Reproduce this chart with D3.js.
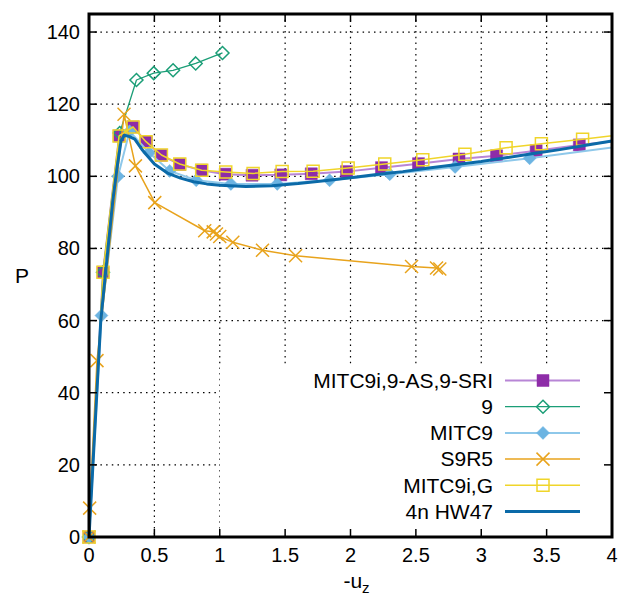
<!DOCTYPE html>
<html lang="en">
<head>
<meta charset="UTF-8" />
<title>P vs -uz</title>
<script src="https://d3js.org/d3.v7.min.js"></script>
<style>
  body { margin: 0; background: #fff; }
  text { font-family: "Liberation Sans", Arial, sans-serif; fill: #000; }
</style>
</head>
<body>
<div id="chart"></div>
<script>
// tick values
const xTicks = [0, 0.5, 1, 1.5, 2, 2.5, 3, 3.5, 4];
const yTicks = [0, 20, 40, 60, 80, 100, 120, 140];

// series as [-uz, P]
const mitc9iAs = [[0, 0], [0.107, 73.4], [0.231, 111.2], [0.337, 113.7], [0.438, 109.6], [0.552, 105.8],
  [0.694, 103.3], [0.86, 101.7], [1.042, 100.6], [1.247, 100.3], [1.467, 100.4], [1.70, 100.7],
  [1.97, 101.3], [2.237, 102.4], [2.52, 103.5], [2.83, 104.8], [3.117, 105.7], [3.42, 107.1],
  [3.75, 108.7], [4.2, 110.4]];
const nine = [[0, 0], [0.107, 73.4], [0.235, 112], [0.363, 126.7], [0.495, 128.6], [0.643, 129.4],
  [0.816, 131.3], [1.021, 134.2]];
const mitc9 = [[0, 0], [0.095, 61.4], [0.222, 100], [0.31, 112.5], [0.46, 106.5], [0.617, 101.5],
  [0.82, 98.9], [1.085, 97.9], [1.44, 97.9], [1.84, 98.9], [2.30, 100.6], [2.80, 102.6],
  [3.37, 105.0], [4.2, 108.9]];
const s9r5 = [[0, 0], [0.005, 8], [0.061, 48.9], [0.268, 117.2], [0.355, 102.9], [0.503, 92.7],
  [0.885, 84.9], [0.95, 84.6], [0.975, 84.0], [1.0, 83.3], [1.10, 81.7], [1.327, 79.5],
  [1.58, 78.0], [2.467, 75.0], [2.658, 74.6], [2.683, 74.3]];
const mitc9iG = [[0, 0], [0.107, 73.4], [0.23, 111.2], [0.337, 113.7], [0.436, 109.6], [0.554, 105.9],
  [0.694, 103.4], [0.862, 101.7], [1.046, 101.2], [1.255, 100.8], [1.477, 101.3], [1.714, 101.4],
  [1.982, 102.3], [2.262, 103.4], [2.553, 104.6], [2.875, 106.1], [3.19, 107.9], [3.46, 109.0],
  [3.775, 110.3], [4.2, 112.1]];
const hw47 = [[0, 0], [0.09, 60], [0.183, 93.5], [0.215, 102.5], [0.245, 109.8], [0.27, 111.4],
  [0.31, 111], [0.35, 110.3], [0.41, 107.2], [0.5, 103.4], [0.6, 100.9], [0.7, 99.5],
  [0.8, 98.5], [0.9, 97.9], [1.0, 97.5], [1.2, 97.2], [1.4, 97.4], [1.6, 98.0], [1.8, 98.8],
  [2.0, 99.6], [2.2, 100.5], [2.4, 101.3], [2.6, 102.3], [2.8, 103.2], [3.0, 104.1], [3.2, 105.2],
  [3.4, 106.3], [3.6, 107.4], [3.8, 108.6], [4.0, 109.8]];

const names = ["MITC9i,9-AS,9-SRI", "9", "MITC9", "S9R5", "MITC9i,G", "4n HW47"];

const series = [
  { data: mitc9iAs, line: "#b886d6", lw: 2, mark: "square", color: "#8e2ca8", fill: true },
  { data: nine, line: "#1b9e77", lw: 1.3, mark: "diamond", color: "#1b9e77", fill: false },
  { data: mitc9, line: "#8ec8ea", lw: 2, mark: "diamond", color: "#6cb4e2", fill: true },
  { data: s9r5, line: "#e8a31c", lw: 1.5, mark: "cross", color: "#e8a31c", fill: false },
  { data: mitc9iG, line: "#f0d52a", lw: 1.5, mark: "square", color: "#f0d52a", fill: false },
  { data: hw47, line: "#0b6aa8", lw: 3, mark: null, color: "#0b6aa8", fill: false }
];

var margin = { top: 14, right: 7, bottom: 65, left: 89 },
  width = 619 - margin.left - margin.right,
  height = 602 - margin.top - margin.bottom;

var svgRoot = d3.select("#chart").append("svg")
  .attr("width", 619).attr("height", 602);
var svg = svgRoot.append("g")
  .attr("transform", "translate(" + margin.left + "," + margin.top + ")");

var x = d3.scaleLinear().domain([0, 4]).range([0, width]);
var y = d3.scaleLinear().domain([0, 145]).range([height, 0]);

svg.append("clipPath").attr("id", "clip")
  .append("rect").attr("width", width).attr("height", height);

// grid
svg.append("g").selectAll("line").data(xTicks.slice(1, -1)).enter().append("line")
  .attr("x1", d => x(d)).attr("x2", d => x(d)).attr("y1", 0).attr("y2", height)
  .attr("stroke", "#000").attr("stroke-width", 1.2).attr("stroke-dasharray", "1.5,4.2");
svg.append("g").selectAll("line").data(yTicks.slice(1)).enter().append("line")
  .attr("x1", 0).attr("x2", width).attr("y1", d => y(d)).attr("y2", d => y(d))
  .attr("stroke", "#000").attr("stroke-width", 1.2).attr("stroke-dasharray", "1.5,4.2");

// marker shapes
function markPath(type, r) {
  if (type === "square") return `M${-r},${-r}H${r}V${r}H${-r}Z`;
  if (type === "diamond") return `M0,${-r}L${r},0L0,${r}L${-r},0Z`;
  if (type === "cross") return `M${-r},${-r}L${r},${r}M${-r},${r}L${r},${-r}`;
  return "";
}

var line = d3.line().x(d => x(d[0])).y(d => y(d[1]));

series.forEach(function (s) {
  svg.append("path").datum(s.data)
    .attr("clip-path", "url(#clip)")
    .attr("fill", "none").attr("stroke", s.line).attr("stroke-width", s.lw)
    .attr("stroke-linejoin", "round")
    .attr("d", line);
  if (!s.mark) return;
  var r = s.mark === "square" ? 6 : 6.5;
  svg.append("g").selectAll("path")
    .data(s.data.filter(d => d[0] <= 4)).enter().append("path")
    .attr("transform", d => "translate(" + x(d[0]) + "," + y(d[1]) + ")")
    .attr("d", markPath(s.mark, r))
    .attr("fill", s.fill ? s.color : "none")
    .attr("stroke", s.color)
    .attr("stroke-width", s.fill ? 0.5 : 1.5);
});

// legend box (opaque)
var lx = x(1), ly = 351;
svg.append("rect").attr("x", lx).attr("y", ly)
  .attr("width", width - lx).attr("height", height - ly).attr("fill", "#fff");

var leg = svg.append("g");
names.forEach(function (name, i) {
  var s = series[i];
  var cy = 366.5 + i * 26.2;
  leg.append("text").attr("x", 404).attr("y", cy).attr("dy", "0.35em")
    .attr("text-anchor", "end").style("font-size", "21px").text(name);
  leg.append("line").attr("x1", 416).attr("x2", 491).attr("y1", cy).attr("y2", cy)
    .attr("stroke", s.line).attr("stroke-width", s.lw);
  if (s.mark) {
    leg.append("path").attr("transform", "translate(454," + cy + ")")
      .attr("d", markPath(s.mark, s.mark === "square" ? 6 : 6.5))
      .attr("fill", s.fill ? s.color : "none")
      .attr("stroke", s.color).attr("stroke-width", s.fill ? 0.5 : 1.5);
  }
});

// ticks on all four sides, inward
var tl = 8;
var tg = svg.append("g").attr("stroke", "#000").attr("stroke-width", 1.5);
xTicks.forEach(function (t) {
  tg.append("line").attr("x1", x(t)).attr("x2", x(t)).attr("y1", height).attr("y2", height - tl);
  tg.append("line").attr("x1", x(t)).attr("x2", x(t)).attr("y1", 0).attr("y2", tl);
});
yTicks.forEach(function (t) {
  tg.append("line").attr("x1", 0).attr("x2", tl).attr("y1", y(t)).attr("y2", y(t));
  tg.append("line").attr("x1", width).attr("x2", width - tl).attr("y1", y(t)).attr("y2", y(t));
});

// frame
svg.append("rect").attr("width", width).attr("height", height)
  .attr("fill", "none").attr("stroke", "#000").attr("stroke-width", 3);

// tick labels
svg.append("g").selectAll("text").data(xTicks).enter().append("text")
  .attr("x", d => x(d)).attr("y", height + 25).attr("text-anchor", "middle")
  .style("font-size", "20px").text(d => d3.format("")(d));
svg.append("g").selectAll("text").data(yTicks).enter().append("text")
  .attr("x", -9).attr("y", d => y(d)).attr("dy", "0.35em").attr("text-anchor", "end")
  .style("font-size", "20px").text(d => d);

// axis titles
svg.append("text").attr("x", -67).attr("y", height / 2).attr("dy", "0.35em")
  .attr("text-anchor", "middle").style("font-size", "21px").text("P");
var xl = svg.append("text").attr("x", width / 2 + 6).attr("y", height + 51)
  .attr("text-anchor", "middle").style("font-size", "21px");
xl.append("tspan").text("-u");
xl.append("tspan").attr("dy", 5).style("font-size", "15px").text("z");
</script>
</body>
</html>
